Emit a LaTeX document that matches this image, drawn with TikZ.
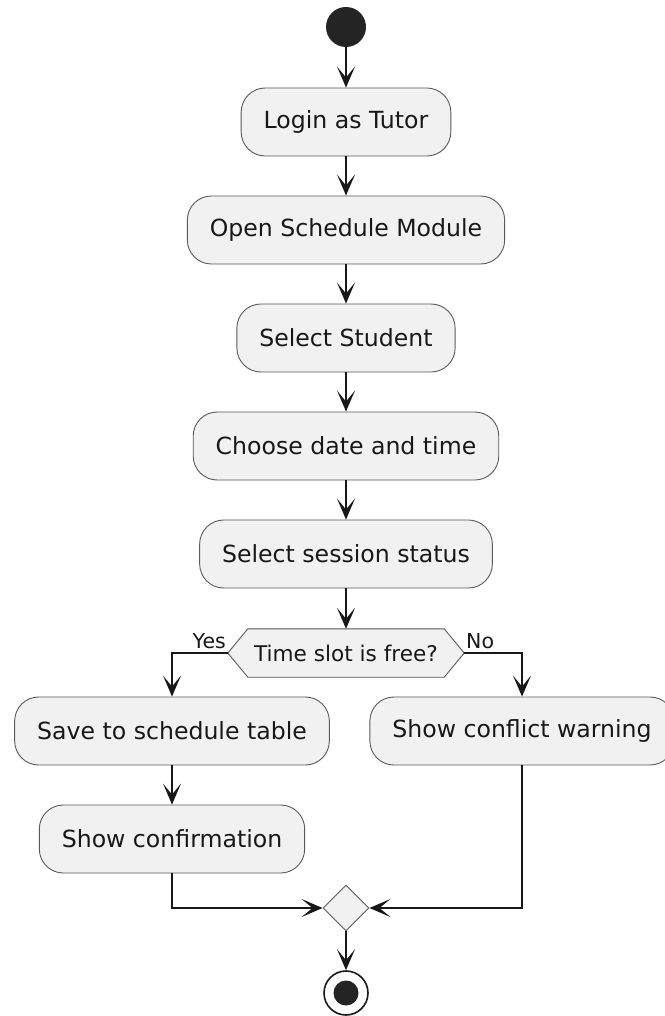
\documentclass[tikz,border=0pt]{standalone}
\usepackage{fontspec}
\setmainfont{DejaVu Sans}
\usetikzlibrary{arrows.meta,shapes.geometric,backgrounds}

\definecolor{boxfill}{HTML}{F1F1F1}
\definecolor{ink}{HTML}{181818}
\definecolor{edge}{HTML}{5A5A5A}

\tikzset{
  activity/.style={draw=edge, line width=0.9pt, fill=boxfill, rounded corners=24pt,
    minimum height=68pt, inner xsep=22.5pt, inner ysep=0pt, text=ink,
    font=\fontsize{23.6}{28}\selectfont},
  dectext/.style={minimum width=236pt, minimum height=48pt, inner sep=0pt, text=ink,
    font=\fontsize{21.6}{26}\selectfont},
  hexagon/.style={draw=edge, line width=0.9pt, fill=boxfill},
  merge/.style={diamond, draw=edge, line width=0.9pt, fill=boxfill,
    minimum size=46pt, inner sep=0pt},
  startdot/.style={circle, fill=ink!95, minimum size=40pt, inner sep=0pt},
  enddot/.style={circle, draw=ink, line width=1.6pt, fill=white, minimum size=44pt, inner sep=0pt},
  enddotcore/.style={circle, fill=ink!95, minimum size=25pt, inner sep=0pt},
  guard/.style={inner sep=0pt, text=ink, font=\fontsize{20.5}{24}\selectfont},
  flow/.style={draw=ink, line width=1.5pt,
    -{Stealth[length=21pt, width=18pt, inset=11pt]}},
}

\begin{document}
\begin{tikzpicture}[x=1pt, y=-1pt]
  \begin{pgfonlayer}{background}
    \fill[white] (0,0) rectangle (664,1016);
  \end{pgfonlayer}
  \useasboundingbox (0,0) rectangle (664,1016);

  % initial node
  \node[startdot] (start) at (346,27) {};

  % main column of actions
  \node[activity] (login)   at (346,122) {Login as Tutor};
  \node[activity] (open)    at (346,230) {Open Schedule Module};
  \node[activity] (student) at (346,338) {Select Student};
  \node[activity] (choose)  at (346,446) {Choose date and time};
  \node[activity] (status)  at (346,554) {Select session status};

  % decision: text on top, hexagon outline behind it
  \node[dectext] (dec) at (346,653) {Time slot is free?};
  \begin{pgfonlayer}{background}
    \draw[hexagon] (dec.west) -- ([xshift=20pt]dec.north west)
      -- ([xshift=-20pt]dec.north east) -- (dec.east)
      -- ([xshift=-20pt]dec.south east) -- ([xshift=20pt]dec.south west) -- cycle;
  \end{pgfonlayer}
  \node[guard, anchor=base east] (yes) at (226,648) {Yes};
  \node[guard, anchor=base west] (no)  at (466,648) {No};

  % branches
  \node[activity] (save)     at (172,731) {Save to schedule table};
  \node[activity] (conflict) at (522,731) {Show conflict warning};
  \node[activity] (confirm)  at (172,839) {Show confirmation};

  % merge and final node
  \node[merge] (join) at (346,908) {};
  \node[enddot] (stop) at (346,993) {};
  \node[enddotcore] (stopcore) at (346,993) {};

  % connectors
  \draw[flow] (start) -- (login);
  \draw[flow] (login) -- (open);
  \draw[flow] (open) -- (student);
  \draw[flow] (student) -- (choose);
  \draw[flow] (choose) -- (status);
  \draw[flow] (status) -- (dec);
  \draw[flow] (dec.west) -| (save);
  \draw[flow] (dec.east) -| (conflict);
  \draw[flow] (save) -- (confirm);
  \draw[flow] (confirm) |- (join);
  \draw[flow] (conflict) |- (join);
  \draw[flow] (join) -- (stop);
\end{tikzpicture}
\end{document}
